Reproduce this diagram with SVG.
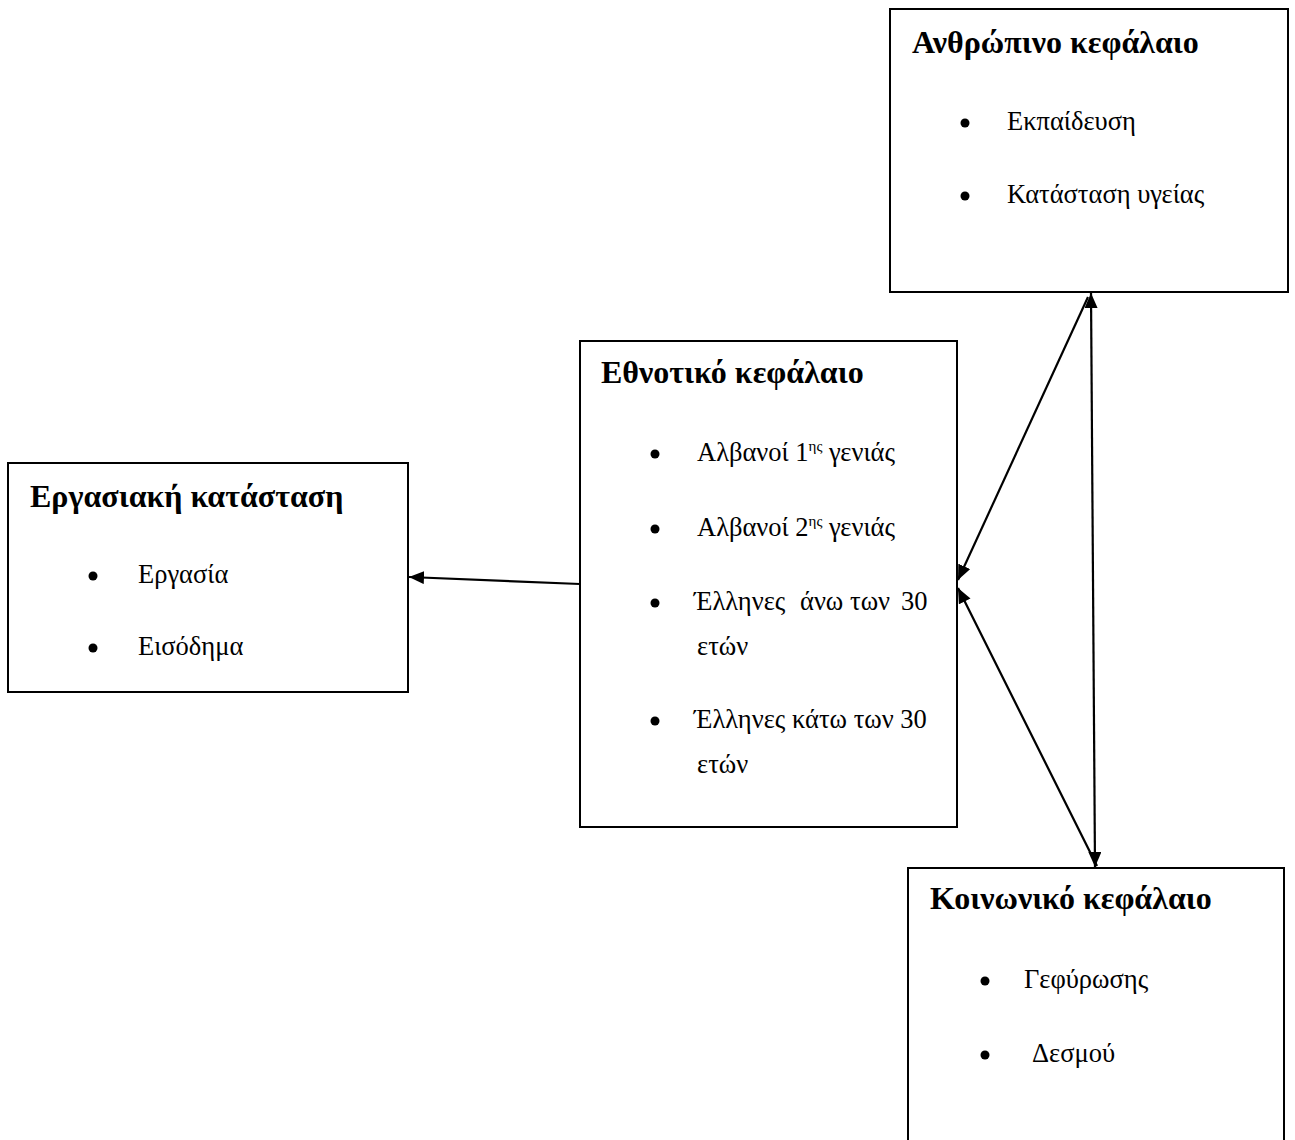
<svg xmlns="http://www.w3.org/2000/svg" width="1295" height="1140" viewBox="0 0 1295 1140">
<defs>
<marker id="ah" viewBox="0 0 15 13" refX="15" refY="6.5" markerWidth="15" markerHeight="13" markerUnits="userSpaceOnUse" orient="auto-start-reverse">
<path d="M0,0 L15,6.5 L0,13 Z" fill="#000"/>
</marker>
</defs>
<style>
.box{fill:#fff;stroke:#000;stroke-width:2}
.t{font-family:"Liberation Serif","Times New Roman",serif;font-size:32px;font-weight:bold;fill:#000}
.b{font-family:"Liberation Serif","Times New Roman",serif;font-size:26.5px;fill:#000}
.sup{font-size:15px}
.c{stroke:#000;stroke-width:2.2;fill:none}
</style>
<rect width="1295" height="1140" fill="#fff"/>
<g id="connectors">
<line class="c" x1="580" y1="584" x2="409" y2="577" marker-end="url(#ah)"/>
<line class="c" x1="1088" y1="297" x2="958" y2="580" marker-end="url(#ah)"/>
<line class="c" x1="1097" y1="866" x2="958" y2="588" marker-end="url(#ah)"/>
<line class="c" x1="1091" y1="293" x2="1095" y2="867" marker-start="url(#ah)" marker-end="url(#ah)"/>
</g>
<g id="node-anthropino">
<rect class="box" x="890" y="9" width="398" height="283"/>
<text class="t" x="912" y="53">Ανθρώπινο κεφάλαιο</text>
<circle cx="965" cy="123" r="4.5"/>
<text class="b" x="1007" y="130">Εκπαίδευση</text>
<circle cx="965" cy="196" r="4.5"/>
<text class="b" x="1007" y="203">Κατάσταση υγείας</text>
</g>
<g id="node-ethnotiko">
<rect class="box" x="580" y="341" width="377" height="486"/>
<text class="t" x="601" y="383">Εθνοτικό κεφάλαιο</text>
<circle cx="655" cy="454" r="4.5"/>
<text class="b" x="697" y="461">Αλβανοί 1<tspan class="sup" dy="-10">ης</tspan><tspan dy="10"> γενιάς</tspan></text>
<circle cx="655" cy="529" r="4.5"/>
<text class="b" x="697" y="536">Αλβανοί 2<tspan class="sup" dy="-10">ης</tspan><tspan dy="10"> γενιάς</tspan></text>
<circle cx="655" cy="603" r="4.5"/>
<text class="b" y="610"><tspan x="694">Έλληνες</tspan><tspan x="800">άνω</tspan><tspan x="850">των</tspan><tspan x="901">30</tspan></text>
<text class="b" x="697" y="655">ετών</text>
<circle cx="655" cy="721" r="4.5"/>
<text class="b" x="694" y="728">Έλληνες κάτω των 30</text>
<text class="b" x="697" y="773">ετών</text>
</g>
<g id="node-ergasiaki">
<rect class="box" x="8" y="463" width="400" height="229"/>
<text class="t" x="30" y="507">Εργασιακή κατάσταση</text>
<circle cx="93" cy="576" r="4.5"/>
<text class="b" x="138" y="583">Εργασία</text>
<circle cx="93" cy="648" r="4.5"/>
<text class="b" x="138" y="655">Εισόδημα</text>
</g>
<g id="node-koinoniko">
<path class="box" d="M908,1141 V868 H1284 V1141"/>
<text class="t" x="930" y="909">Κοινωνικό κεφάλαιο</text>
<circle cx="985" cy="981" r="4.5"/>
<text class="b" x="1024" y="988">Γεφύρωσης</text>
<circle cx="985" cy="1055" r="4.5"/>
<text class="b" x="1032" y="1062">Δεσμού</text>
</g>
</svg>
